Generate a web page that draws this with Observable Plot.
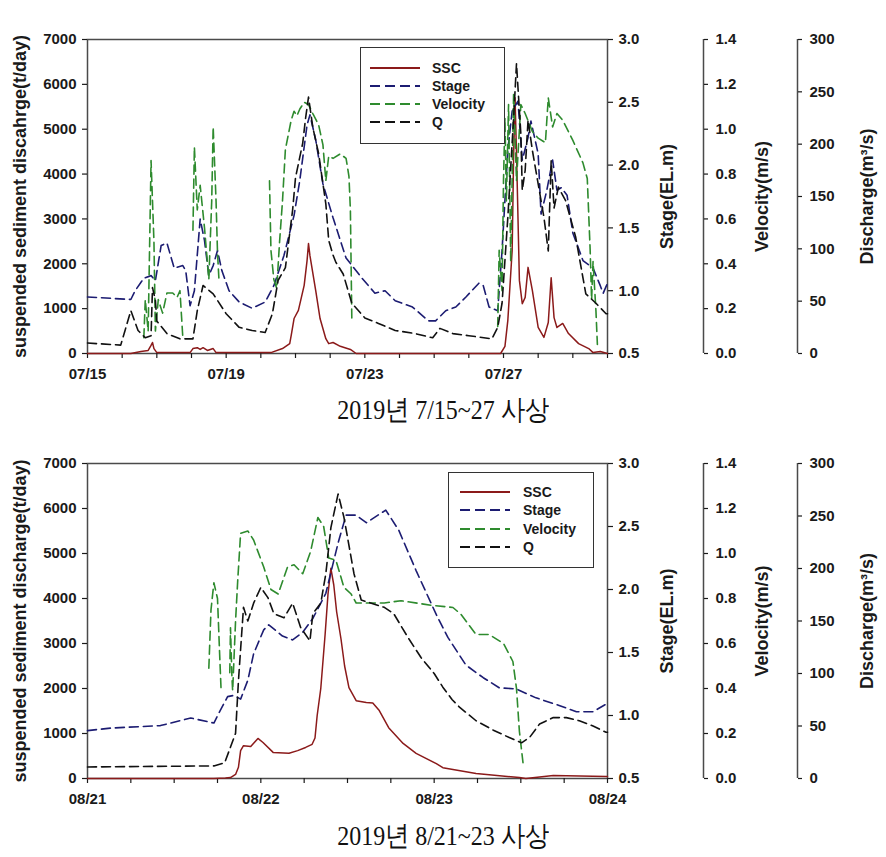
<!DOCTYPE html>
<html><head><meta charset="utf-8">
<script src="https://cdn.jsdelivr.net/npm/d3@7"></script>
<script src="https://cdn.jsdelivr.net/npm/@observablehq/plot@0.6"></script>
<style>
body{margin:0;background:#fff;width:886px;height:857px;overflow:hidden;position:relative;font-family:"Liberation Sans",Arial,sans-serif;}
.panel{position:absolute;left:0;width:886px;}
.panel svg{position:absolute;left:0;top:0;}
.legend{position:absolute;border:1.5px solid #333;background:#fff;box-sizing:border-box;}
.legend .row{position:absolute;left:0;height:18px;width:100%;}
.legend .row svg{position:absolute;top:0;}
.legend .row span{position:absolute;top:0;line-height:18px;font-weight:bold;font-size:14px;color:#1a1a1a;}
.caption{position:absolute;left:0;width:886px;text-align:center;font-family:"Liberation Serif","DejaVu Serif",serif;font-size:24px;line-height:26px;color:#111;transform:scaleY(1.15);}
</style></head><body>
<div id="topPanel" class="panel" style="top:0;height:395px"></div>
<div id="cap1" class="caption" style="top:397px"></div>
<div id="botPanel" class="panel" style="top:425px;height:400px"></div>
<div id="cap2" class="caption" style="top:823px"></div>
<script>
// ---------------- DATA ----------------
const seriesNames = ["SSC", "Stage", "Velocity", "Q"];
const seriesColors = ["#8b1a1a", "#1c1c72", "#2e8b2e", "#111111"];
const captions = ["2019년 7/15~27 사상", "2019년 8/21~23 사상"];
const leftTitles = ["suspended sediment discahrge(t/day)", "suspended sediment discharge(t/day)"];
const rightTitles = ["Stage(EL.m)", "Velocity(m/s)", "Discharge(m³/s)"];

const sscTicks = [0, 1000, 2000, 3000, 4000, 5000, 6000, 7000];
const stageTicks = [0.5, 1.0, 1.5, 2.0, 2.5, 3.0];
const velTicks = [0, 0.2, 0.4, 0.6, 0.8, 1.0, 1.2, 1.4];
const qTicks = [0, 50, 100, 150, 200, 250, 300];

const topStart = "2019-07-15", topEnd = "2019-07-30";
const topLabels = ["07/15", "07/19", "07/23", "07/27"];
const botStart = "2019-08-21", botEnd = "2019-08-24";
const botLabels = ["08/21", "08/22", "08/23", "08/24"];

// [hours since start, value]
const sscTop = [[0,0],[30,0],[37,45],[42,67],[44,180],[45,245],[46,110],[48,20],[71,20],[73,110],[76,130],[78,90],[80,130],[83,67],[87,110],[89,20],[127,20],[135,110],[140,220],[141,400],[143,780],[146,960],[150,1520],[152,2070],[153,2450],[154,2180],[158,1400],[161,780],[165,330],[167,220],[170,245],[175,160],[182,90],[186,0],[286,0],[289,160],[291,740],[294,2300],[295,4400],[296,5700],[297.2,4200],[299,1630],[301,1110],[303,1250],[305,1920],[308,1400],[312,580],[316,360],[319,690],[321,1690],[323,800],[325,580],[329,670],[333,445],[340,220],[347,110],[350,20],[355,45],[360,0]];
const stageTop = [[0,0.95],[30,0.93],[33,1.0],[39,1.10],[44,1.12],[47,1.08],[51,1.36],[55,1.38],[60,1.18],[66,1.20],[68,1.16],[71,0.88],[74,1.0],[78,1.57],[81,1.40],[84,1.12],[87,1.20],[90,1.32],[93,1.16],[98,1.0],[105,0.91],[114,0.86],[123,0.91],[129,1.04],[136,1.28],[143,1.60],[147,1.88],[152,2.32],[154,2.40],[158,2.20],[163,1.85],[170,1.58],[179,1.26],[190,1.10],[199,0.98],[206,1.0],[213,0.92],[225,0.87],[236,0.76],[241,0.76],[248,0.84],[255,0.87],[262,0.95],[271,1.06],[274,1.04],[278,0.87],[284,0.84],[287,1.32],[291,2.12],[294,2.43],[298,2.51],[301,2.04],[305,2.22],[307,2.35],[312,2.09],[314,1.61],[318,1.80],[322,2.04],[325,1.80],[328,1.82],[332,1.76],[336,1.46],[343,1.24],[350,1.18],[355,1.04],[357,0.98],[360,1.06]];
const velTop = [[39,0.07],[40,0.24],[42,0.10],[44,0.86],[46,0.50],[47,0.10],[49,0.24],[52,0.18],[55,0.27],[59,0.27],[62,0.25],[64,0.28],[66,0.07],[69,null],[73,0.55],[74,0.92],[76,0.64],[78,0.75],[81,0.56],[84,0.33],[86,0.68],[87,1.01],[89,0.68],[90,0.45],[91,0.33],[100,null],[126,0.77],[127,0.46],[129,0.33],[131,0.29],[133,0.50],[135,0.68],[137,0.91],[141,1.04],[143,1.08],[145,1.06],[147,1.09],[150,1.12],[153,1.11],[156,1.07],[160,1.02],[163,0.93],[165,0.77],[167,0.88],[170,0.87],[175,0.89],[179,0.87],[181,0.79],[182,0.64],[183,0.15],[200,null],[284,0.12],[285,0.46],[287,0.28],[288,0.77],[289,1.05],[290,0.68],[291.5,1.11],[293,0.41],[295,1.16],[297,0.77],[300,1.11],[303,1.07],[308,0.99],[312,0.96],[317,0.94],[319,1.14],[322,1.01],[325,1.07],[329,1.04],[336,0.95],[343,0.85],[346,0.78],[348,0.46],[349,0.24],[350,0.41],[352,0.19],[353,0.04]];
const qTop = [[0,10],[23,8],[26,22],[30,41],[35,22],[40,15],[44,17],[45,63],[47,51],[48,31],[55,19],[64,14],[73,14],[76,41],[80,65],[87,57],[96,38],[105,25],[114,22],[123,20],[128,38],[132,70],[137,82],[142,137],[144,168],[149,201],[151,225],[153,245],[156,216],[160,191],[165,143],[167,108],[170,94],[172,87],[177,76],[183,48],[192,34],[201,29],[213,22],[227,19],[239,15],[244,24],[253,19],[264,17],[280,14],[284,25],[287,48],[291,130],[293,178],[295,225],[297,277],[300,210],[301,156],[303,175],[305,223],[308,194],[312,162],[316,130],[319,98],[321,184],[323,139],[326,159],[331,146],[338,111],[345,57],[352,48],[359,38],[360,38]];

const sscBot = [[0,0],[17.5,0],[19.1,10],[19.8,20],[20.5,90],[20.9,250],[21.2,620],[21.6,730],[22.6,710],[23.6,890],[24.3,800],[25.7,580],[27.9,560],[29.1,620],[30.2,690],[31.1,760],[31.5,900],[31.8,1400],[32.3,2000],[32.9,3200],[33.3,4100],[33.7,4670],[34.1,4300],[34.5,3700],[35.1,3100],[35.6,2500],[36.2,2020],[37.2,1730],[38.6,1690],[39.5,1680],[40.4,1510],[41.7,1130],[43.7,780],[45.5,560],[48.3,330],[49.2,240],[53.8,110],[59.8,20],[60.7,0],[64.5,65],[71.8,45],[72,45]];
const stageBot = [[0,0.88],[3.2,0.90],[10.1,0.92],[14.3,0.98],[17.5,0.94],[18.2,1.02],[19.4,1.15],[20.3,1.16],[21.2,1.13],[22.2,1.28],[23,1.49],[24.4,1.68],[25.1,1.72],[27,1.63],[28.4,1.60],[29.8,1.66],[31.2,1.77],[33,1.97],[34.7,2.37],[35.8,2.59],[37.2,2.59],[38.6,2.53],[41.3,2.63],[43.1,2.47],[45.5,2.15],[48.3,1.80],[49.9,1.62],[52.4,1.40],[54.8,1.30],[57,1.22],[59.4,1.21],[62.1,1.14],[65.3,1.08],[67.7,1.03],[70,1.03],[71.8,1.09],[72,1.09]];
const velBot = [[16.8,0.49],[17.1,0.75],[17.5,0.87],[18,0.80],[18.3,0.55],[18.5,0.39],[19,null],[19.7,0.47],[19.8,0.67],[20,0.45],[20.1,0.39],[20.5,0.70],[20.8,0.88],[21.2,1.09],[22.2,1.10],[23,1.06],[24.4,0.94],[25.4,0.84],[26.4,0.82],[27.7,0.94],[28.6,0.95],[29.8,0.91],[30.9,1.01],[31.9,1.16],[32.7,1.12],[33.4,0.98],[34.4,0.97],[35.5,0.85],[36.5,0.82],[37.2,0.78],[41.1,0.78],[43.4,0.79],[47.6,0.77],[50.6,0.76],[51.7,0.73],[53.8,0.64],[55.6,0.64],[57.6,0.60],[58.9,0.52],[59.4,0.40],[59.8,0.21],[60.3,0.07]];
const qBot = [[0,11],[17.5,12],[19,15],[19.8,30],[20.5,43],[20.9,93],[21.6,163],[22.2,150],[23,167],[24,182],[25,172],[25.8,157],[27.2,153],[28.4,167],[29.5,144],[30.8,131],[31.2,157],[32.3,167],[33,195],[33.7,239],[34.7,271],[35.5,249],[36.9,195],[37.9,170],[39.3,167],[41.1,163],[42.4,157],[44.4,134],[46.2,115],[48,100],[49.2,87],[50.5,75],[51.5,68],[53.8,55],[56.2,46],[58.4,39],[60.1,34],[61.2,39],[62.6,52],[64.5,58],[66.3,58],[68.1,55],[70,50],[71.8,44],[72,44]];

// ---------------- DRAWING ----------------
const W = 886, ML = 87, MR = 279;
const FONT = '"Liberation Sans", Arial, Helvetica, sans-serif';
const fmtMD = d3.utcFormat("%m/%d");
const DASH = "9,5";

function rows(t0, pairs) {
  return pairs.map(([h, v]) => ({t: new Date(t0.getTime() + h * 3600000), v: v == null ? NaN : v}));
}
function dayLabel(labelSet) {
  return d => (d.getUTCHours() === 0 && labelSet.has(fmtMD(d))) ? fmtMD(d) : "";
}

function drawPanel(el, p) {
  const t0 = new Date(p.start + "T00:00:00Z");
  const t1 = new Date(p.end + "T00:00:00Z");
  const labelSet = new Set(p.labels);
  const common = (bg, showX) => ({
    width: W, height: p.height, marginLeft: ML, marginRight: MR, marginTop: p.mt, marginBottom: p.mb,
    style: {background: bg, overflow: "visible", fontFamily: FONT, fontSize: "15px", fontWeight: "bold", color: "#1a1a1a"},
    x: showX ? {type: "utc", domain: [t0, t1], label: null} : {type: "utc", domain: [t0, t1], label: null, axis: null}
  });
  const titleOpts = (anchor, dx) => ({frameAnchor: anchor, rotate: -90, dx, textAnchor: "middle", lineAnchor: "middle", fontSize: 18, fontWeight: "bold", text: d => d, fill: "#1a1a1a"});

  // Layer 1: SSC with frame, x axis and left axis
  const l1 = Plot.plot({
    ...common("white", true),
    y: {domain: [0, 7000], label: null},
    marks: [
      Plot.frame({stroke: "#4a4a4a", strokeWidth: 1.5}),
      Plot.axisX({ticks: p.minor(t0, t1), tickSize: 5, tickPadding: 10, tickFormat: dayLabel(labelSet), strokeWidth: 1.2}),
      Plot.axisY({ticks: sscTicks, tickSize: 5, tickPadding: 6, tickFormat: d => String(d), strokeWidth: 1.2}),
      Plot.text([p.leftTitle], titleOpts("left", -67)),
      Plot.line(rows(t0, p.ssc), {x: "t", y: "v", stroke: seriesColors[0], strokeWidth: 1.5})
    ]
  });
  // Layer 2: Stage
  const l2 = Plot.plot({
    ...common("transparent", false),
    y: {domain: [0.5, 3.0], label: null},
    marks: [
      Plot.axisY({anchor: "right", ticks: stageTicks, tickFormat: d3.format(".1f"), tickSize: 5, tickPadding: 6, strokeWidth: 1.2}),
      Plot.text([rightTitles[0]], titleOpts("right", 60)),
      Plot.line(rows(t0, p.stage), {x: "t", y: "v", stroke: seriesColors[1], strokeWidth: 1.6, strokeDasharray: DASH})
    ]
  });
  // Layer 3: Velocity
  const l3 = Plot.plot({
    ...common("transparent", false),
    y: {domain: [0, 1.4], label: null},
    marks: [
      Plot.ruleX([t1], {dx: 96, stroke: "#4a4a4a", strokeWidth: 1.5}),
      Plot.axisY({anchor: "right", dx: 96, ticks: velTicks, tickFormat: d3.format(".1f"), tickSize: 4, tickPadding: 8, strokeWidth: 1.2}),
      Plot.text([rightTitles[1]], titleOpts("right", 155)),
      Plot.line(rows(t0, p.vel), {x: "t", y: "v", stroke: seriesColors[2], strokeWidth: 1.6, strokeDasharray: DASH})
    ]
  });
  // Layer 4: Discharge
  const l4 = Plot.plot({
    ...common("transparent", false),
    y: {domain: [0, 300], label: null},
    marks: [
      Plot.ruleX([t1], {dx: 190, stroke: "#4a4a4a", strokeWidth: 1.5}),
      Plot.axisY({anchor: "right", dx: 190, ticks: qTicks, tickFormat: d => String(d), tickSize: 4, tickPadding: 8, strokeWidth: 1.2}),
      Plot.text([rightTitles[2]], titleOpts("right", 260)),
      Plot.line(rows(t0, p.q), {x: "t", y: "v", stroke: seriesColors[3], strokeWidth: 1.6, strokeDasharray: DASH})
    ]
  });
  [l1, l2, l3, l4].forEach(s => el.appendChild(s));

  // Legend (HTML, built from series arrays)
  const lg = document.createElement("div");
  lg.className = "legend";
  Object.assign(lg.style, {left: p.legend.left + "px", top: p.legend.top + "px", width: p.legend.w + "px", height: p.legend.h + "px"});
  seriesNames.forEach((name, i) => {
    const r = document.createElement("div");
    r.className = "row";
    r.style.top = (p.legend.first + i * p.legend.step - 9) + "px";
    const dash = i === 0 ? "" : `stroke-dasharray="10,5"`;
    r.innerHTML = `<svg width="60" height="18" style="left:${p.legend.sx}px"><line x1="0" x2="${p.legend.sw}" y1="9" y2="9" stroke="${seriesColors[i]}" stroke-width="2" ${dash}/></svg><span style="left:${p.legend.tx}px">${name}</span>`;
    lg.appendChild(r);
  });
  el.appendChild(lg);
}

drawPanel(document.getElementById("topPanel"), {
  start: topStart, end: topEnd, labels: topLabels, height: 395, mt: 39, mb: 42,
  minor: (a, b) => d3.utcDay.range(a, new Date(+b + 1)),
  leftTitle: leftTitles[0], ssc: sscTop, stage: stageTop, vel: velTop, q: qTop,
  legend: {left: 360, top: 47, w: 145, h: 97, first: 20, step: 18, sx: 9, sw: 50, tx: 71}
});
drawPanel(document.getElementById("botPanel"), {
  start: botStart, end: botEnd, labels: botLabels, height: 400, mt: 38, mb: 47,
  minor: (a, b) => d3.utcHour.every(6).range(a, new Date(+b + 1)),
  leftTitle: leftTitles[1], ssc: sscBot, stage: stageBot, vel: velBot, q: qBot,
  legend: {left: 448, top: 47, w: 146, h: 96, first: 19, step: 18.3, sx: 11, sw: 50, tx: 74}
});
document.getElementById("cap1").textContent = captions[0];
document.getElementById("cap2").textContent = captions[1];
</script>
</body></html>
